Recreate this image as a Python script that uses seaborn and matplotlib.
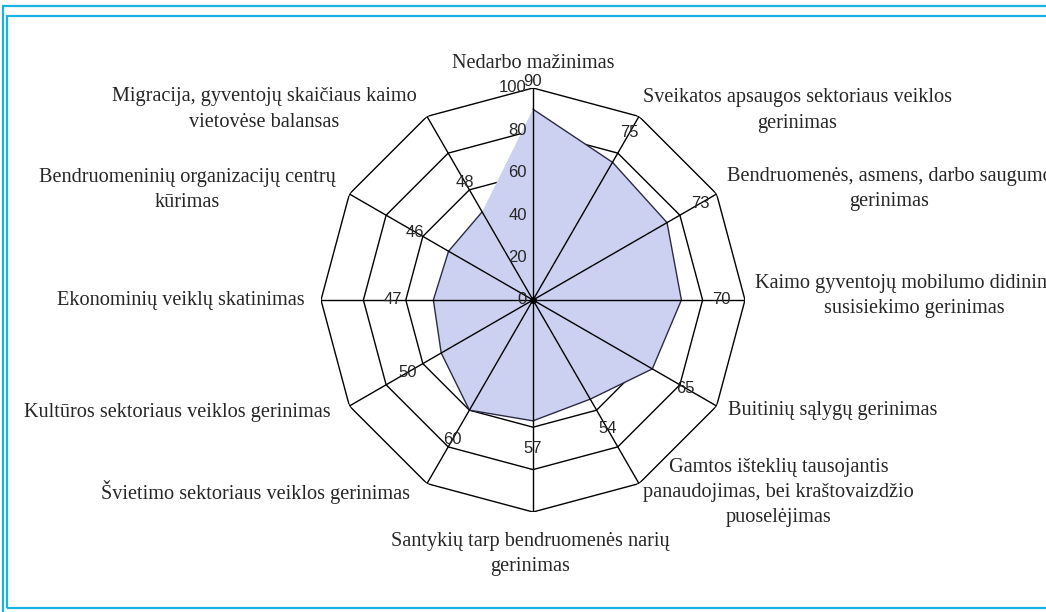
import numpy as np
import matplotlib
matplotlib.use("Agg")
import matplotlib.pyplot as plt
import seaborn as sns
import pandas as pd
from matplotlib.patches import Rectangle

# ---- data ----
categories = [
    "Nedarbo mažinimas",
    "Sveikatos apsaugos sektoriaus veiklos\ngerinimas",
    "Bendruomenės, asmens, darbo saugumo\ngerinimas",
    "Kaimo gyventojų mobilumo didinimas,\nsusisiekimo gerinimas",
    "Buitinių sąlygų gerinimas",
    "Gamtos išteklių tausojantis\npanaudojimas, bei kraštovaizdžio\npuoselėjimas",
    "Santykių tarp bendruomenės narių\ngerinimas",
    "Švietimo sektoriaus veiklos gerinimas",
    "Kultūros sektoriaus veiklos gerinimas",
    "Ekonominių veiklų skatinimas",
    "Bendruomeninių organizacijų centrų\nkūrimas",
    "Migracija, gyventojų skaičiaus kaimo\nvietovėse balansas",
]
values = [90, 75, 73, 70, 65, 54, 57, 60, 50, 47, 46, 48]
radial_ticks = [0, 20, 40, 60, 80, 100]

# ---- label layout (pixel offsets from outer-ring vertex, alignment) ----
cat_layout = [
    ((0, 24), "center"),
    ((4, 6), "left"),
    ((10, 5), "left"),
    ((10, 4), "left"),
    ((11, -4), "left"),
    ((4, -9), "left"),
    ((-3, -42), "center"),
    ((-17, -8), "right"),
    ((-19, -6), "right"),
    ((-16, 0), "right"),
    ((-14, 4), "right"),
    ((-10, 7), "right"),
]

sns.set_theme(style="white")
plt.rcParams["font.family"] = ["Liberation Serif", "DejaVu Serif"]

W, H = 1046, 612
fig = plt.figure(figsize=(W / 100, H / 100), dpi=100)
fig.patch.set_facecolor("white")

cx, cy, R = 533, 300, 212
ax = fig.add_axes([(cx - R) / W, (H - cy - R) / H, 2 * R / W, 2 * R / H],
                  projection="polar")
ax.set_theta_zero_location("N")
ax.set_theta_direction(-1)

n = len(categories)
theta = np.arange(n) * 2 * np.pi / n
theta_c = np.append(theta, theta[0])
vals_c = np.append(values, values[0])

# polygon rings
for v in radial_ticks[1:]:
    ax.plot(theta_c, [v] * (n + 1), color="black", lw=1.0, zorder=1)

# data area
ax.fill(theta_c, vals_c, facecolor="#cdd1f1", edgecolor="none", zorder=2)
df = pd.DataFrame({"theta": theta_c, "value": vals_c})
sns.lineplot(data=df, x="theta", y="value", sort=False, ax=ax,
             color="#2b2b45", lw=1.0, zorder=3)
ax.set_ylim(0, 100)
ax.set_axis_off()

# spokes
for t in theta:
    ax.plot([t, t], [0, 100], color="black", lw=1.0, zorder=4)
ax.plot([0], [0], "o", color="black", ms=4, zorder=5)

sans = ["Liberation Sans", "DejaVu Sans"]

# radial tick labels
for v in radial_ticks:
    ax.annotate(str(v), xy=(0, v), xytext=(-6, 0), textcoords="offset pixels",
                ha="right", va="center", fontsize=12, family=sans, zorder=6,
                annotation_clip=False)

# data labels, pushed outward from each point
for t, v in zip(theta, values):
    d = 28 + 12 * abs(np.sin(t))
    ax.annotate(str(v), xy=(t, v), xytext=(d * np.sin(t), d * np.cos(t)),
                textcoords="offset pixels", ha="center", va="center",
                fontsize=12, family=sans, zorder=6, annotation_clip=False)

# category labels
for t, lab, (off, ha) in zip(theta, categories, cat_layout):
    ax.annotate(lab, xy=(t, 100), xytext=off, textcoords="offset pixels",
                ha=ha, va="center", multialignment="center", fontsize=14.6,
                linespacing=1.45, annotation_clip=False, zorder=6)

# double cyan frame
border = "#19b2e2"
fig.add_artist(Rectangle((3 / W, -0.1), 1.2, (H - 6) / H + 0.1,
                         transform=fig.transFigure, fill=False,
                         edgecolor=border, lw=1.6))
fig.add_artist(Rectangle((7 / W, (H - 608) / H), 1.2, (608 - 16) / H,
                         transform=fig.transFigure, fill=False,
                         edgecolor=border, lw=1.6))

fig.savefig("out.png", dpi=100, facecolor="white")
